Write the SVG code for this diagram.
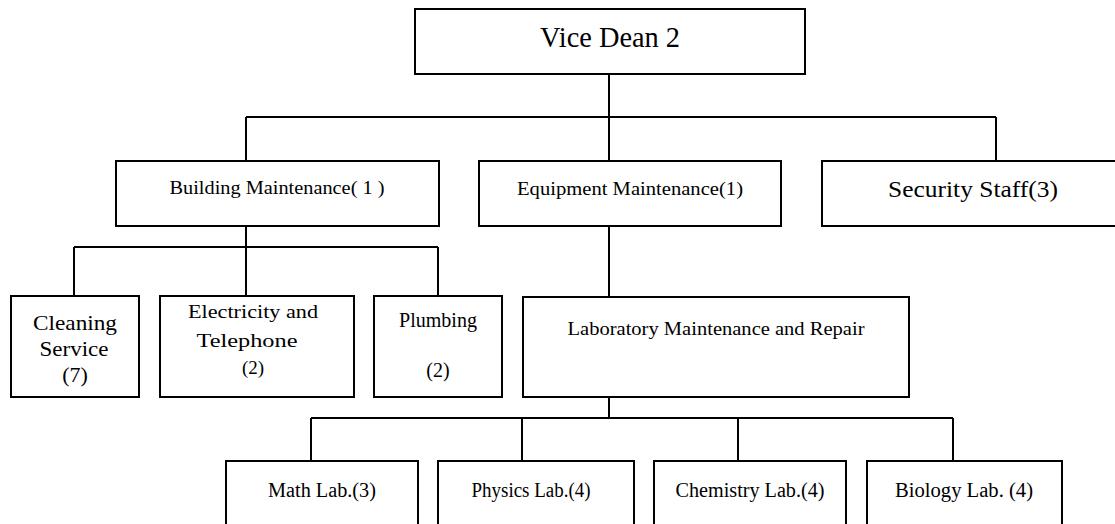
<svg xmlns="http://www.w3.org/2000/svg" width="1115" height="524" viewBox="0 0 1115 524">
<style>
.box{fill:#fff;stroke:#000;stroke-width:2}
.ln{fill:none;stroke:#000;stroke-width:2}
text{font-family:"Liberation Serif","Times New Roman",serif;fill:#000;text-anchor:middle}
</style>
<rect width="1115" height="524" fill="#fff"/>
<g id="connectors">
<path class="ln" d="M609 74V161M246 117H996M246 117V161M996 117V161"/>
<path class="ln" d="M246 226V247M74 247H438M74 247V296M246 247V296M438 247V296"/>
<path class="ln" d="M609 226V297M609 397V418M311 418H953M311 418V461M522 418V461M738 418V461M953 418V461"/>
</g>
<g id="vice-dean"><rect class="box" x="415" y="9" width="390" height="65"/><text x="610" y="47" font-size="29" textLength="140" lengthAdjust="spacingAndGlyphs">Vice Dean 2</text></g>
<g id="building"><rect class="box" x="116" y="161" width="323" height="65"/><text x="277" y="194" font-size="18" textLength="215" lengthAdjust="spacingAndGlyphs">Building Maintenance( 1 )</text></g>
<g id="equipment"><rect class="box" x="479" y="161" width="302" height="65"/><text x="630" y="195" font-size="19" textLength="226" lengthAdjust="spacingAndGlyphs">Equipment Maintenance(1)</text></g>
<g id="security"><rect class="box" x="822" y="161" width="302" height="65"/><text x="973" y="197" font-size="24" textLength="170" lengthAdjust="spacingAndGlyphs">Security Staff(3)</text></g>
<g id="cleaning"><rect class="box" x="11" y="296" width="128" height="101"/><text x="75" y="330" font-size="22" textLength="84" lengthAdjust="spacingAndGlyphs">Cleaning</text><text x="74" y="356" font-size="22" textLength="69" lengthAdjust="spacingAndGlyphs">Service</text><text x="75" y="382" font-size="22">(7)</text></g>
<g id="electricity"><rect class="box" x="160" y="296" width="194" height="101"/><text x="253" y="318" font-size="19" textLength="130" lengthAdjust="spacingAndGlyphs">Electricity and</text><text x="247" y="347" font-size="19" textLength="101" lengthAdjust="spacingAndGlyphs">Telephone</text><text x="253" y="374" font-size="19">(2)</text></g>
<g id="plumbing"><rect class="box" x="374" y="296" width="128" height="101"/><text x="438" y="327" font-size="20" textLength="78" lengthAdjust="spacingAndGlyphs">Plumbing</text><text x="438" y="377" font-size="20">(2)</text></g>
<g id="lab-maint"><rect class="box" x="523" y="297" width="386" height="100"/><text x="716" y="335" font-size="18" textLength="297" lengthAdjust="spacingAndGlyphs">Laboratory Maintenance and Repair</text></g>
<g id="math"><rect class="box" x="226" y="461" width="192" height="80"/><text x="322" y="497" font-size="20" textLength="108" lengthAdjust="spacingAndGlyphs">Math Lab.(3)</text></g>
<g id="physics"><rect class="box" x="438" y="461" width="196" height="80"/><text x="531" y="497" font-size="20" textLength="119" lengthAdjust="spacingAndGlyphs">Physics Lab.(4)</text></g>
<g id="chemistry"><rect class="box" x="654" y="461" width="192" height="80"/><text x="750" y="497" font-size="20" textLength="149" lengthAdjust="spacingAndGlyphs">Chemistry Lab.(4)</text></g>
<g id="biology"><rect class="box" x="867" y="461" width="195" height="80"/><text x="964" y="497" font-size="20" textLength="138" lengthAdjust="spacingAndGlyphs">Biology Lab. (4)</text></g>
</svg>
